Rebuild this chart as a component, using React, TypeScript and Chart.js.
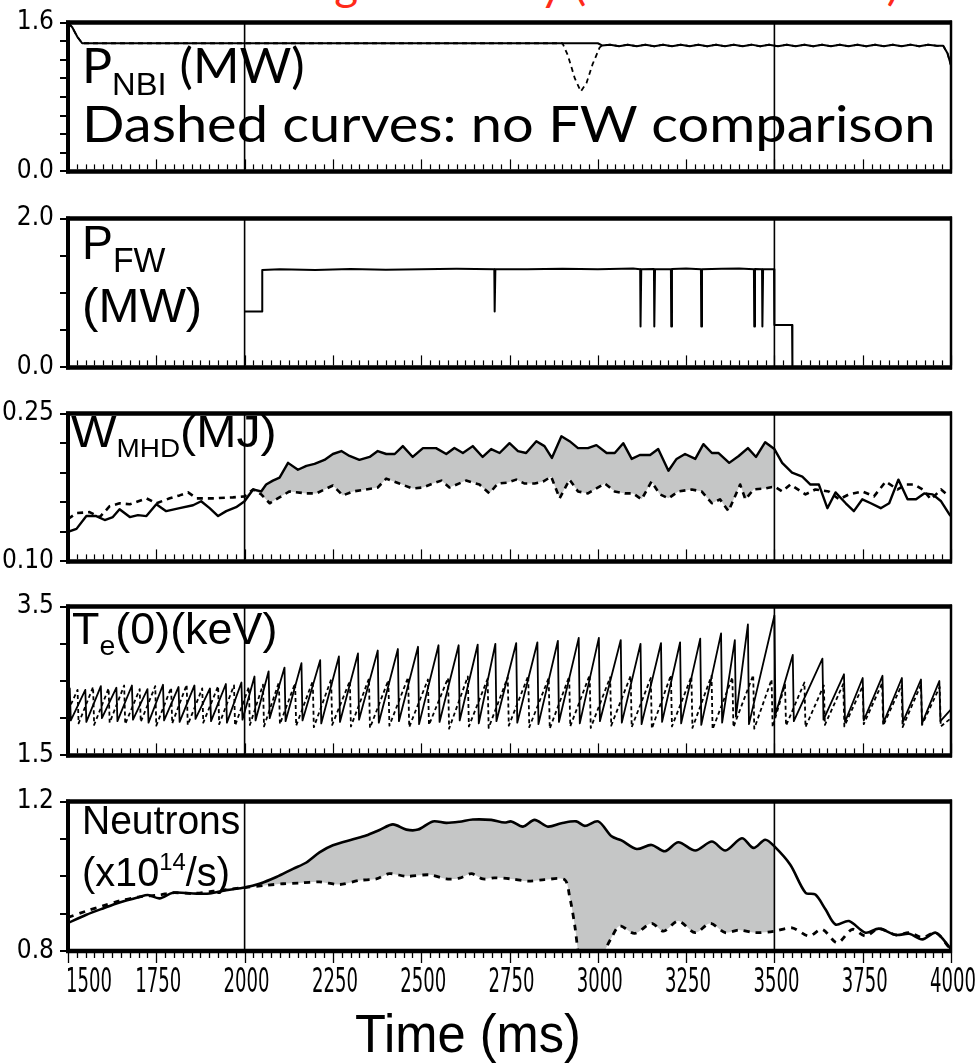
import React, { useEffect, useLayoutEffect, useRef } from "react";
import { Chart, registerables } from "chart.js";

Chart.register(...registerables);

// ---------------- data ----------------
const TIME_MIN = 1500;
const TIME_MAX = 4000;
const xTickLabels = ["1500", "1750", "2000", "2250", "2500", "2750", "3000", "3250", "3500", "3750", "4000"];
const markerTimes = [2000, 3500];

// y tick values per panel (only the first and last are labelled)
const nbiYTicks = [0, 0.2, 0.4, 0.6, 0.8, 1.0, 1.2, 1.4, 1.6];
const pfwYTicks = [0, 0.5, 1.0, 1.5, 2.0];
const wYTicks = [0.10, 0.13, 0.16, 0.19, 0.22, 0.25];
const teYTicks = [1.5, 2.0, 2.5, 3.0, 3.5];
const nYTicks = [0.8, 0.9, 1.0, 1.1, 1.2];

// P_NBI (MW)
const nbiRippleT = [3035, 3060, 3085, 3110, 3135, 3160, 3185, 3210, 3235, 3260, 3285, 3310, 3335, 3360, 3385, 3410, 3435, 3460, 3485, 3510, 3535, 3560, 3585, 3610, 3635, 3660, 3685, 3710, 3735, 3760, 3785, 3810, 3835, 3860, 3885, 3910, 3935, 3960];
const nbiRippleV = [1.362, 1.346, 1.362, 1.346, 1.362, 1.345, 1.362, 1.346, 1.363, 1.346, 1.362, 1.345, 1.362, 1.346, 1.362, 1.346, 1.363, 1.345, 1.362, 1.346, 1.362, 1.346, 1.362, 1.345, 1.362, 1.346, 1.363, 1.346, 1.362, 1.345, 1.362, 1.346, 1.362, 1.346, 1.363, 1.345, 1.362, 1.350];
const nbiSolidT = [1500, 1512, 1526, 1540, 2000, 2500, 3000, 3012];
const nbiSolidV = [1.60, 1.55, 1.45, 1.378, 1.378, 1.378, 1.378, 1.355];
const nbiDashT = [1500, 1512, 1526, 1540, 2000, 2500, 2900, 2915, 2935, 2952, 2968, 2985, 3005, 3012];
const nbiDashV = [1.60, 1.55, 1.45, 1.378, 1.378, 1.378, 1.378, 1.25, 1.0, 0.86, 0.95, 1.15, 1.33, 1.355];
const nbiTailT = [3978, 3990, 4000];
const nbiTailV = [1.35, 1.27, 1.14];

// P_FW (MW)
const pfwT = [2000, 2050, 2050, 2100, 2200, 2300, 2400, 2500, 2600, 2707, 2708, 2710, 2800, 2900, 3000, 3100, 3120, 3121, 3123, 3159, 3160, 3162, 3207, 3208, 3210, 3250, 3292, 3293, 3295, 3350, 3400, 3442, 3443, 3445, 3465, 3466, 3468, 3499, 3500, 3550, 3551, 4000];
const pfwV = [0.75, 0.75, 1.31, 1.32, 1.31, 1.322, 1.312, 1.32, 1.325, 1.32, 0.75, 1.32, 1.318, 1.325, 1.32, 1.328, 1.32, 0.55, 1.32, 1.322, 0.55, 1.32, 1.32, 0.55, 1.322, 1.33, 1.32, 0.55, 1.32, 1.325, 1.33, 1.32, 0.55, 1.322, 1.32, 0.55, 1.32, 1.32, 0.57, 0.57, 0, 0];

// W_MHD (MJ)
const wSolidT = [1500, 1524, 1552, 1580, 1604, 1627, 1646, 1675, 1698, 1722, 1750, 1778, 1816, 1854, 1877, 1901, 1925, 1948, 1976, 2000, 2024, 2047, 2061, 2080, 2099, 2123, 2151, 2175, 2198, 2226, 2250, 2274, 2297, 2325, 2354, 2377, 2401, 2425, 2448, 2476, 2505, 2542, 2571, 2594, 2618, 2646, 2674, 2698, 2722, 2750, 2774, 2797, 2826, 2849, 2870, 2897, 2920, 2944, 2972, 2996, 3025, 3048, 3072, 3096, 3119, 3148, 3171, 3200, 3223, 3247, 3276, 3299, 3323, 3342, 3372, 3399, 3425, 3448, 3474, 3500, 3522, 3550, 3579, 3602, 3626, 3650, 3673, 3702, 3725, 3749, 3773, 3801, 3825, 3851, 3877, 3901, 3924, 3948, 3972, 3995, 4000];
const wSolidV = [0.130, 0.133, 0.146, 0.146, 0.142, 0.145, 0.153, 0.145, 0.147, 0.146, 0.158, 0.151, 0.154, 0.157, 0.161, 0.154, 0.146, 0.151, 0.155, 0.161, 0.173, 0.171, 0.178, 0.182, 0.185, 0.200, 0.193, 0.197, 0.199, 0.203, 0.209, 0.212, 0.207, 0.203, 0.206, 0.212, 0.209, 0.209, 0.217, 0.206, 0.215, 0.215, 0.209, 0.215, 0.210, 0.217, 0.206, 0.214, 0.210, 0.220, 0.212, 0.210, 0.222, 0.217, 0.205, 0.227, 0.222, 0.215, 0.215, 0.218, 0.210, 0.210, 0.220, 0.204, 0.208, 0.208, 0.214, 0.192, 0.204, 0.209, 0.204, 0.219, 0.210, 0.210, 0.200, 0.207, 0.215, 0.206, 0.221, 0.214, 0.200, 0.190, 0.186, 0.178, 0.178, 0.154, 0.170, 0.159, 0.151, 0.163, 0.159, 0.154, 0.159, 0.183, 0.163, 0.163, 0.169, 0.168, 0.161, 0.148, 0.146];
const wDashT = [1500, 1524, 1561, 1590, 1618, 1646, 1675, 1722, 1750, 1788, 1816, 1840, 1864, 1911, 1967, 2000, 2024, 2047, 2071, 2094, 2127, 2175, 2203, 2250, 2278, 2307, 2344, 2377, 2401, 2438, 2476, 2505, 2533, 2557, 2580, 2627, 2665, 2693, 2717, 2745, 2769, 2793, 2821, 2845, 2868, 2892, 2920, 2944, 2972, 3020, 3048, 3077, 3100, 3124, 3152, 3176, 3200, 3228, 3266, 3294, 3323, 3346, 3370, 3403, 3418, 3441, 3474, 3500, 3522, 3545, 3588, 3616, 3654, 3683, 3711, 3749, 3782, 3815, 3849, 3872, 3896, 3920, 3943, 3972, 3995];
const wDashV = [0.143, 0.149, 0.150, 0.145, 0.156, 0.159, 0.158, 0.164, 0.159, 0.164, 0.167, 0.170, 0.164, 0.164, 0.165, 0.166, 0.173, 0.168, 0.159, 0.164, 0.171, 0.169, 0.169, 0.177, 0.167, 0.171, 0.173, 0.175, 0.184, 0.179, 0.174, 0.175, 0.179, 0.182, 0.175, 0.182, 0.178, 0.169, 0.179, 0.180, 0.183, 0.179, 0.179, 0.181, 0.186, 0.164, 0.183, 0.171, 0.169, 0.179, 0.171, 0.169, 0.169, 0.163, 0.181, 0.168, 0.164, 0.171, 0.173, 0.171, 0.159, 0.163, 0.151, 0.178, 0.163, 0.173, 0.174, 0.176, 0.171, 0.178, 0.168, 0.173, 0.171, 0.163, 0.168, 0.171, 0.166, 0.181, 0.173, 0.178, 0.178, 0.173, 0.163, 0.173, 0.166];

// Te(0) (keV) sawteeth: crash times, peak before crash, trough after crash
const teSolidCrashT = [1505, 1549, 1593, 1637, 1681, 1725, 1769, 1813, 1858, 1902, 1947, 1991, 2028, 2068, 2113, 2161, 2214, 2267, 2321, 2377, 2434, 2491, 2549, 2606, 2660, 2710, 2769, 2829, 2887, 2946, 3003, 3065, 3121, 3179, 3233, 3290, 3349, 3388, 3425, 3500, 3552, 3636, 3697, 3750, 3806, 3861, 3915, 3967];
const teSolidPeak = [2.40, 2.38, 2.43, 2.41, 2.44, 2.39, 2.45, 2.42, 2.44, 2.40, 2.46, 2.48, 2.56, 2.63, 2.68, 2.74, 2.78, 2.83, 2.87, 2.91, 2.93, 2.96, 2.98, 2.98, 2.99, 3.00, 3.01, 3.02, 3.04, 3.08, 3.08, 3.05, 3.00, 3.01, 3.02, 3.07, 3.14, 3.05, 3.26, 3.38, 2.85, 2.80, 2.59, 2.54, 2.57, 2.54, 2.52, 2.50];
const teSolidTrough = [1.97, 1.95, 2.00, 1.96, 1.98, 1.94, 1.97, 1.95, 1.99, 1.96, 1.94, 1.98, 1.97, 2.00, 1.96, 1.97, 1.93, 1.95, 1.98, 1.94, 1.96, 1.92, 1.95, 1.97, 1.93, 1.96, 1.94, 1.92, 1.95, 1.93, 1.96, 1.94, 1.92, 1.95, 1.93, 1.91, 1.94, 2.02, 1.92, 2.05, 1.96, 1.98, 1.95, 1.97, 1.94, 1.95, 1.93, 1.96];
const teSolidStartEnd = [2.30, 2.12];
const teDashCrashT = [1527, 1571, 1615, 1659, 1703, 1747, 1792, 1836, 1880, 1925, 1970, 2012, 2052, 2097, 2143, 2193, 2245, 2298, 2352, 2407, 2463, 2519, 2576, 2632, 2688, 2745, 2803, 2861, 2919, 2977, 3035, 3093, 3150, 3207, 3265, 3322, 3381, 3440, 3492, 3530, 3585, 3640, 3695, 3750, 3805, 3860, 3915, 3968];
const teDashPeak = [2.38, 2.42, 2.40, 2.44, 2.39, 2.43, 2.41, 2.45, 2.40, 2.43, 2.44, 2.42, 2.45, 2.48, 2.47, 2.50, 2.52, 2.50, 2.53, 2.51, 2.55, 2.52, 2.54, 2.56, 2.53, 2.55, 2.57, 2.54, 2.56, 2.58, 2.55, 2.57, 2.54, 2.58, 2.56, 2.57, 2.55, 2.58, 2.52, 2.45, 2.48, 2.44, 2.46, 2.43, 2.47, 2.44, 2.45, 2.42];
const teDashTrough = [1.93, 1.91, 1.94, 1.92, 1.95, 1.90, 1.93, 1.91, 1.94, 1.92, 1.90, 1.91, 1.89, 1.92, 1.90, 1.88, 1.91, 1.89, 1.87, 1.90, 1.88, 1.91, 1.86, 1.89, 1.87, 1.90, 1.88, 1.86, 1.89, 1.87, 1.90, 1.88, 1.86, 1.89, 1.87, 1.85, 1.88, 1.86, 1.88, 1.90, 1.88, 1.91, 1.89, 1.92, 1.90, 1.88, 1.91, 1.89];
const teDashStartEnd = [2.10, 2.00];

// Neutrons (x10^14/s)
const nSolidT = [1500, 1552, 1599, 1646, 1703, 1726, 1759, 1797, 1854, 1901, 1948, 2000, 2042, 2090, 2137, 2175, 2212, 2250, 2307, 2344, 2382, 2420, 2458, 2491, 2533, 2571, 2608, 2646, 2698, 2736, 2755, 2788, 2821, 2859, 2897, 2939, 2963, 3001, 3039, 3067, 3110, 3152, 3190, 3228, 3276, 3323, 3361, 3408, 3441, 3474, 3500, 3545, 3588, 3616, 3645, 3673, 3711, 3758, 3796, 3844, 3882, 3919, 3957, 4000];
const nSolidV = [0.875, 0.897, 0.914, 0.930, 0.945, 0.950, 0.941, 0.956, 0.954, 0.954, 0.963, 0.970, 0.980, 0.998, 1.020, 1.037, 1.064, 1.083, 1.099, 1.109, 1.124, 1.139, 1.125, 1.125, 1.147, 1.143, 1.146, 1.152, 1.151, 1.144, 1.147, 1.133, 1.151, 1.133, 1.142, 1.147, 1.135, 1.147, 1.107, 1.096, 1.073, 1.084, 1.067, 1.091, 1.069, 1.093, 1.069, 1.102, 1.076, 1.098, 1.080, 1.031, 0.956, 0.951, 0.911, 0.871, 0.880, 0.849, 0.860, 0.843, 0.846, 0.831, 0.849, 0.805];
const nDashT = [1500, 1552, 1599, 1646, 1703, 1759, 1797, 1854, 1911, 2000, 2061, 2109, 2156, 2212, 2269, 2325, 2373, 2410, 2458, 2524, 2571, 2608, 2642, 2675, 2707, 2755, 2802, 2849, 2906, 2920, 2935, 2944, 2950, 3015, 3020, 3039, 3062, 3105, 3152, 3186, 3228, 3276, 3318, 3361, 3399, 3446, 3500, 3550, 3598, 3635, 3678, 3721, 3758, 3796, 3844, 3882, 3919, 3957, 3995];
const nDashV = [0.890, 0.907, 0.921, 0.934, 0.945, 0.950, 0.956, 0.954, 0.960, 0.970, 0.976, 0.980, 0.982, 0.985, 0.978, 0.989, 0.993, 1.007, 1.000, 1.004, 0.993, 0.995, 1.007, 0.993, 0.996, 0.993, 0.987, 0.991, 0.991, 0.947, 0.867, 0.800, 0.780, 0.780, 0.800, 0.836, 0.867, 0.847, 0.874, 0.853, 0.880, 0.849, 0.874, 0.849, 0.856, 0.849, 0.853, 0.862, 0.840, 0.858, 0.822, 0.858, 0.840, 0.860, 0.843, 0.849, 0.836, 0.849, 0.809];

// ---------------- helpers ----------------
const NARROW = "'Liberation Sans Narrow', 'DejaVu Sans Condensed', 'Liberation Sans', sans-serif";
const LIB = "'Liberation Sans', Arial, sans-serif";
const GEO = "Lato, 'Noto Sans', sans-serif";

const pts = (ts: number[], vs: number[]) => ts.map((t, i) => ({ x: t, y: vs[i] }));
const within = (p: any[], a: number, b: number) => p.filter((q) => q.x >= a && q.x <= b);
const saw = (se: number[], crash: number[], peak: number[], trough: number[]) => {
  const out: any[] = [{ x: TIME_MIN, y: se[0] }];
  crash.forEach((t, i) => {
    out.push({ x: t, y: peak[i] });
    out.push({ x: t + 3, y: trough[i] });
  });
  out.push({ x: TIME_MAX, y: se[1] });
  return out;
};

const solidDs = (data: any[], width = 2, tension = 0) => ({
  data, borderColor: "#000", borderWidth: width, pointRadius: 0, fill: false, tension, order: 0,
  borderJoinStyle: "round",
});
const dashDs = (data: any[], dash: number[], width = 2, tension = 0) => ({
  ...solidDs(data, width, tension), borderDash: dash, order: 1, borderCapStyle: "butt",
});
const fillPair = (upper: any[], lower: any[], tension = 0) => [
  { data: upper, borderWidth: 0, borderColor: "rgba(0,0,0,0)", backgroundColor: "#c5c6c6", pointRadius: 0, fill: "+1", tension, order: 5 },
  { data: lower, borderWidth: 0, borderColor: "rgba(0,0,0,0)", backgroundColor: "rgba(0,0,0,0)", pointRadius: 0, fill: false, tension, order: 6 },
];

const nbiSolid = pts([...nbiSolidT, ...nbiRippleT, ...nbiTailT], [...nbiSolidV, ...nbiRippleV, ...nbiTailV]);
const nbiDash = pts([...nbiDashT, ...nbiRippleT, ...nbiTailT], [...nbiDashV, ...nbiRippleV, ...nbiTailV]);
const wSolid = pts(wSolidT, wSolidV);
const wDash = pts(wDashT, wDashV);
const nSolid = pts(nSolidT, nSolidV);
const nDash = pts(nDashT, nDashV);

const PAD = 20;
const panels = [
  { top: 21, h: 152, ticks: nbiYTicks, dec: 1, bottom: false,
    datasets: [dashDs(nbiDash, [5, 4], 1.8), solidDs(nbiSolid, 2)] },
  { top: 217, h: 152, ticks: pfwYTicks, dec: 1, bottom: false,
    datasets: [solidDs(pts(pfwT, pfwV), 2)] },
  { top: 412, h: 151, ticks: wYTicks, dec: 2, bottom: false,
    datasets: [...fillPair(within(wSolid, 2000, 3500), within(wDash, 2000, 3500)), solidDs(wSolid, 2.4), dashDs(wDash, [6, 5], 2.6)] },
  { top: 605, h: 152, ticks: teYTicks, dec: 1, bottom: false,
    datasets: [dashDs(saw(teDashStartEnd, teDashCrashT, teDashPeak, teDashTrough), [4, 3], 1.8), solidDs(saw(teSolidStartEnd, teSolidCrashT, teSolidPeak, teSolidTrough), 1.8)] },
  { top: 800, h: 151, ticks: nYTicks, dec: 1, bottom: true,
    datasets: [...fillPair(within(nSolid, 2000, 3500), within(nDash, 2000, 3500), 0.3), solidDs(nSolid, 2.6, 0.3), dashDs(nDash, [6, 6], 2.8, 0.3)] },
];

const framePlugin = (bottom: boolean) => ({
  id: "frame",
  afterDatasetsDraw(chart: any) {
    const { ctx, chartArea: a } = chart;
    const x = chart.scales.x;
    ctx.save();
    ctx.strokeStyle = "#000";
    const line = (x1: number, y1: number, x2: number, y2: number, w: number) => {
      ctx.lineWidth = w;
      ctx.beginPath();
      ctx.moveTo(x1, y1);
      ctx.lineTo(x2, y2);
      ctx.stroke();
    };
    markerTimes.forEach((t) => {
      const px = x.getPixelForValue(t);
      line(px, a.top, px, a.bottom, 1.6);
    });
    for (let t = TIME_MIN; t <= TIME_MAX; t += 25) {
      const px = Math.round(x.getPixelForValue(t)) + 0.5;
      const major = (t - TIME_MIN) % 250 === 0;
      const len = major ? 10 : 5;
      if (bottom) line(px, a.bottom + 2, px, a.bottom + 2 + len, 1.3);
      else line(px, a.bottom - 2, px, a.bottom - 2 - len, 1.2);
    }
    line(a.left - 2, a.top, a.right + 1, a.top, 4.5);
    line(a.left - 2, a.bottom, a.right + 1, a.bottom, 4.5);
    line(a.left, a.top - 2, a.left, a.bottom + 2, 4);
    line(a.right, a.top - 2, a.right, a.bottom + 2, 2.5);
    if (bottom) {
      ctx.fillStyle = "#000";
      ctx.font = `34px ${NARROW}`;
      ctx.textAlign = "center";
      ctx.textBaseline = "middle";
      const sx = 46 / ctx.measureText("1500").width;
      xTickLabels.forEach((lab) => {
        const px = x.getPixelForValue(Number(lab));
        const w = ctx.measureText(lab).width * sx;
        const cx = Math.max(px + 2, 66 + w / 2);
        ctx.save();
        ctx.translate(cx, a.bottom + 32);
        ctx.scale(sx, 1);
        ctx.fillText(lab, 0, 0);
        ctx.restore();
      });
    }
    ctx.restore();
  },
});

function Panel({ p }: { p: any }) {
  const ref = useRef<HTMLCanvasElement>(null);
  const padB = p.bottom ? 60 : PAD;
  const H = PAD + p.h + padB;
  useEffect(() => {
    const first = p.ticks[0];
    const last = p.ticks[p.ticks.length - 1];
    const chart = new Chart(ref.current as HTMLCanvasElement, {
      type: "line",
      data: { datasets: p.datasets },
      options: {
        animation: false,
        responsive: false,
        events: [],
        layout: { padding: { left: 0, right: 29, top: PAD, bottom: padB } },
        plugins: { legend: { display: false }, tooltip: { enabled: false }, filler: { propagate: false } },
        scales: {
          x: { type: "linear", min: TIME_MIN, max: TIME_MAX, display: false },
          y: {
            type: "linear",
            min: first,
            max: last,
            afterFit: (s: any) => { s.width = 68; },
            afterBuildTicks: (s: any) => { s.ticks = p.ticks.map((v: number) => ({ value: v })); },
            ticks: {
              color: "#000",
              padding: 6,
              autoSkip: false,
              font: { family: NARROW, size: 26 },
              callback: (v: any) =>
                Math.abs(v - first) < 1e-9 || Math.abs(v - last) < 1e-9 ? Number(v).toFixed(p.dec) : "",
            },
            grid: { drawOnChartArea: false, drawTicks: true, tickLength: 8, color: "#000", lineWidth: 2 },
            border: { display: false },
          },
        },
      } as any,
      plugins: [framePlugin(p.bottom)],
    });
    return () => chart.destroy();
  }, []);
  return (
    <canvas
      ref={ref}
      width={980}
      height={H}
      style={{ position: "absolute", left: 0, top: p.top - PAD, width: 980, height: H }}
    />
  );
}

function FitText({ left, top, width, style, children }: any) {
  const ref = useRef<HTMLDivElement>(null);
  useLayoutEffect(() => {
    const el = ref.current;
    if (!el) return;
    const fit = () => {
      el.style.transform = "none";
      const w = el.offsetWidth;
      if (w > 0) el.style.transform = `scaleX(${width / w})`;
    };
    fit();
    if ((document as any).fonts) (document as any).fonts.ready.then(fit);
  }, [width]);
  return (
    <div
      ref={ref}
      style={{ position: "absolute", left, top, whiteSpace: "nowrap", transformOrigin: "0 0", lineHeight: 1, color: "#000", ...style }}
    >
      {children}
    </div>
  );
}

const sub = (size: number, shift: number, family = LIB) => ({ fontSize: size, position: "relative" as const, top: shift, fontFamily: family });

export default function App() {
  return (
    <div style={{ position: "absolute", left: 0, top: 0, width: 980, height: 1064, overflow: "hidden", background: "#fff" }}>
      <FitText left={199} top={-39} width={700} style={{ fontFamily: GEO, fontSize: 45, color: "#ff2a1a" }}>
        Heating efficiency (NBI + FW shot)
      </FitText>
      {panels.map((p, i) => (
        <Panel key={i} p={p} />
      ))}
      <FitText left={82} top={40} width={223} style={{ fontFamily: GEO, fontSize: 49 }}>
        P<span style={sub(32, 12)}>NBI</span> (MW)
      </FitText>
      <FitText left={82} top={98} width={853} style={{ fontFamily: GEO, fontSize: 50 }}>
        Dashed curves: no FW comparison
      </FitText>
      <FitText left={82} top={219} width={83} style={{ fontFamily: LIB, fontSize: 48 }}>
        P<span style={sub(35, 13)}>FW</span>
      </FitText>
      <FitText left={82} top={282} width={120} style={{ fontFamily: LIB, fontSize: 48 }}>
        (MW)
      </FitText>
      <FitText left={71} top={409} width={206} style={{ fontFamily: LIB, fontSize: 45 }}>
        W<span style={sub(26, 10)}>MHD</span>(MJ)
      </FitText>
      <FitText left={72} top={607} width={205} style={{ fontFamily: LIB, fontSize: 44 }}>
        T<span style={sub(28, 11)}>e</span>(0)(keV)
      </FitText>
      <FitText left={82} top={800} width={158} style={{ fontFamily: LIB, fontSize: 40 }}>
        Neutrons
      </FitText>
      <FitText left={82} top={852} width={148} style={{ fontFamily: LIB, fontSize: 40 }}>
        (x10<span style={sub(24, -16)}>14</span>/s)
      </FitText>
      <FitText left={355} top={1006} width={226} style={{ fontFamily: LIB, fontSize: 54 }}>
        Time (ms)
      </FitText>
    </div>
  );
}
